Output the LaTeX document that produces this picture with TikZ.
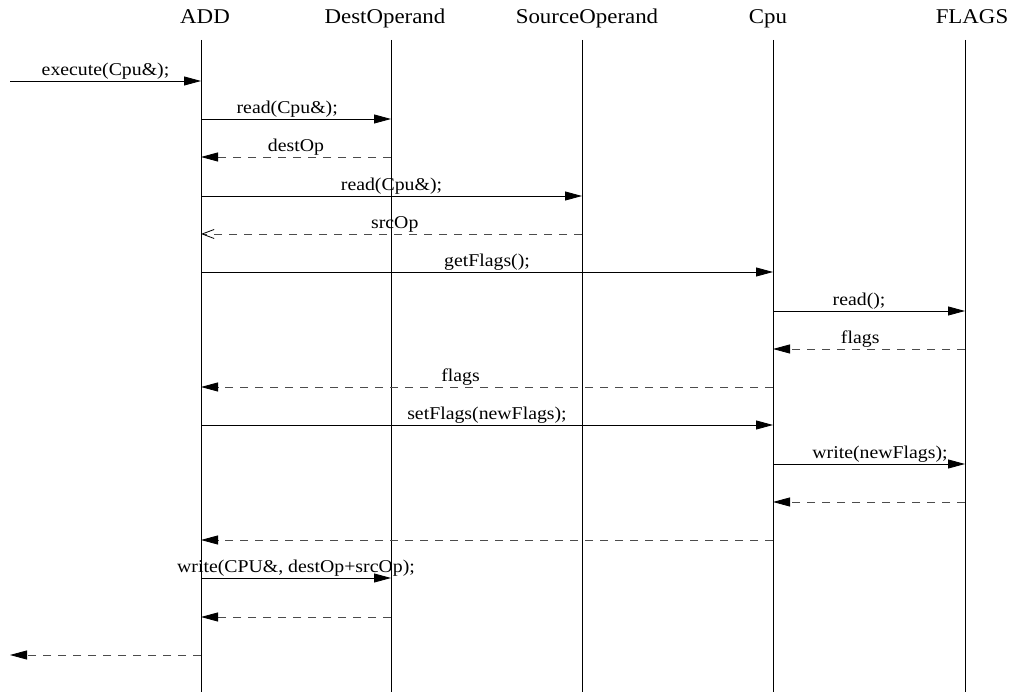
\documentclass[tikz,border=0pt]{standalone}
\usepackage{fontspec}
\setmainfont{Liberation Serif}
\usetikzlibrary{arrows.meta}

\tikzset{
  head/.style={font=\fontsize{21}{25}\selectfont, xscale=1.09, anchor=base},
  lifeline/.style={line width=0.8pt},
  call/.style={line width=0.8pt, -{Triangle[length=17pt,width=9pt]}},
  ret/.style={line width=0.8pt, black!70, dash pattern=on 8pt off 7pt, -{Triangle[length=17pt,width=9pt,color=black]}},
  asyncret/.style={line width=0.8pt, black!70, dash pattern=on 8pt off 7pt, -{Straight Barb[length=12pt,width=9pt,line width=0.8pt,color=black]}},
  msg/.style={font=\fontsize{18}{21}\selectfont, xscale=1.1, above, inner sep=1pt, black}
}

\begin{document}
\begin{tikzpicture}[x=1pt,y=-1pt]
        \useasboundingbox (0,0) rectangle (1013,692);
        % lifelines
        \coordinate (add) at (201,40);
        \coordinate (dest) at (391,40);
        \coordinate (src) at (582,40);
        \coordinate (cpu) at (773,40);
        \coordinate (flags) at (965,40);
        \foreach \o in {add,dest,src,cpu,flags}
            \draw[lifeline] (\o) -- (\o |- 0,692);
        % objects
        \node[head] (addname) at (205,24){ADD};
        \node[head] (destname) at (385,24){DestOperand};
        \node[head] (srcname) at (587,24){SourceOperand};
        \node[head] (cpuname) at (768,24){Cpu};
        \node[head] (flagsname) at (972,24){FLAGS};
        \coordinate (caller) at (10,81);
        \coordinate (back) at (10,655);
        % messages
        \draw[call] (caller) -- (add |- caller) node[msg, midway]{execute(Cpu\&);};
        \draw[call] (add |- 0,119) -- (dest |- 0,119) node[msg, midway, xshift=-8pt]{read(Cpu\&);};
        \draw[ret] (dest |- 0,157) -- (add |- 0,157) node[msg, midway]{destOp};
        \draw[call] (add |- 0,196) -- (src |- 0,196) node[msg, midway]{read(Cpu\&);};
        \draw[asyncret] (src |- 0,234) -- (add |- 0,234) node[msg, midway, xshift=3pt]{srcOp};
        \draw[call] (add |- 0,272) -- (cpu |- 0,272) node[msg, midway]{getFlags();};
        \draw[call] (cpu |- 0,311) -- (flags |- 0,311) node[msg, midway, xshift=-9pt]{read();};
        \draw[ret] (flags |- 0,349) -- (cpu |- 0,349) node[msg, midway, xshift=-8pt]{flags};
        \draw[ret] (cpu |- 0,387) -- (add |- 0,387) node[msg, midway, xshift=-24pt]{flags};
        \draw[call] (add |- 0,425) -- (cpu |- 0,425) node[msg, midway]{setFlags(newFlags);};
        \draw[call] (cpu |- 0,464) -- (flags |- 0,464) node[msg, midway, xshift=10pt]{write(newFlags);};
        \draw[ret] (flags |- 0,502) -- (cpu |- 0,502);
        \draw[ret] (cpu |- 0,540) -- (add |- 0,540);
        \draw[call] (add |- 0,578) -- (dest |- 0,578) node[msg, midway]{write(CPU\&, destOp+srcOp);};
        \draw[ret] (dest |- 0,617) -- (add |- 0,617);
        \draw[ret] (add |- back) -- (back);
\end{tikzpicture}
\end{document}
